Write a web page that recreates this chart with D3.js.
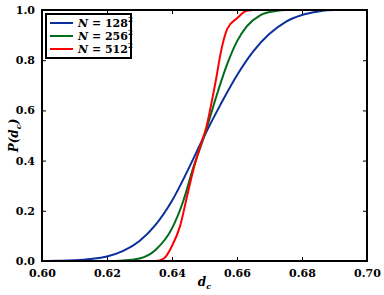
<!DOCTYPE html>
<html>
<head>
<meta charset="utf-8">
<script src="https://cdn.jsdelivr.net/npm/d3@7"></script>
<style>
body { margin: 0; background: #fff; }
text { font-family: "DejaVu Serif", "Liberation Serif", serif; }
</style>
</head>
<body>
<script>
// d_c values and P(d_c) for each lattice size
var d128 = [0.600, 0.605, 0.610, 0.615, 0.620, 0.625, 0.630, 0.635, 0.640, 0.645, 0.650, 0.655, 0.660, 0.665, 0.670, 0.675, 0.680, 0.685, 0.690, 0.700];
var p128 = [0, 0.001, 0.003, 0.008, 0.018, 0.04, 0.08, 0.145, 0.24, 0.365, 0.50, 0.625, 0.74, 0.835, 0.905, 0.953, 0.98, 0.994, 1.0, 1.0];

var d256 = [0.600, 0.620, 0.625, 0.630, 0.635, 0.640, 0.6435, 0.6465, 0.650, 0.6535, 0.657, 0.660, 0.663, 0.667, 0.672, 0.675, 0.700];
var p256 = [0, 0, 0.002, 0.01, 0.045, 0.13, 0.24, 0.37, 0.50, 0.65, 0.785, 0.875, 0.935, 0.978, 0.996, 1, 1];

var d512 = [0.600, 0.635, 0.6375, 0.640, 0.6425, 0.6445, 0.6465, 0.649, 0.6505, 0.652, 0.6535, 0.655, 0.657, 0.660, 0.663, 0.665, 0.700];
var p512 = [0, 0, 0.01, 0.06, 0.14, 0.25, 0.36, 0.47, 0.53, 0.62, 0.72, 0.83, 0.925, 0.967, 0.997, 1, 1];

var seriesNames = ["128", "256", "512"];
var seriesColors = ["#0b2f9c", "#006b1a", "#ff0000"];
var xTicks = [0.60, 0.62, 0.64, 0.66, 0.68, 0.70];
var yTicks = [0.0, 0.2, 0.4, 0.6, 0.8, 1.0];

var width = 384, height = 295;
var margin = {top: 10, right: 17, bottom: 34, left: 42};

var svg = d3.select("body").append("svg")
    .attr("width", width)
    .attr("height", height);

var x = d3.scaleLinear().domain([0.60, 0.70]).range([margin.left, width - margin.right]);
var y = d3.scaleLinear().domain([0, 1]).range([height - margin.bottom, margin.top]);

var series = [
  {d: d128, p: p128},
  {d: d256, p: p256},
  {d: d512, p: p512}
];

var line = d3.line()
    .x(function(v) { return x(v[0]); })
    .y(function(v) { return y(v[1]); })
    .curve(d3.curveMonotoneX);

var plot = svg.append("g");
plot.append("clipPath").attr("id", "clip")
  .append("rect")
    .attr("x", margin.left).attr("y", margin.top - 1)
    .attr("width", x(0.70) - x(0.60)).attr("height", y(0) - y(1) + 1);

series.forEach(function(s, i) {
  var pts = s.d.map(function(d, j) { return [d, s.p[j]]; });
  plot.append("path")
      .datum(pts)
      .attr("clip-path", "url(#clip)")
      .attr("fill", "none")
      .attr("stroke", seriesColors[i])
      .attr("stroke-width", 2)
      .attr("d", line);
});

// axes, ticks pointing inward
var fmtX = d3.format(".2f"), fmtY = d3.format(".1f");
svg.append("g")
    .attr("transform", "translate(0," + y(0) + ")")
    .call(d3.axisBottom(x).tickValues(xTicks).tickFormat(fmtX).tickSizeInner(-4).tickSizeOuter(0).tickPadding(8))
    .call(function(g) { g.select(".domain").remove(); });
svg.append("g")
    .attr("transform", "translate(0," + y(1) + ")")
    .call(d3.axisTop(x).tickValues(xTicks).tickFormat("").tickSizeInner(-4).tickSizeOuter(0))
    .call(function(g) { g.select(".domain").remove(); });
svg.append("g")
    .attr("transform", "translate(" + x(0.60) + ",0)")
    .call(d3.axisLeft(y).tickValues(yTicks).tickFormat(fmtY).tickSizeInner(-4).tickSizeOuter(0).tickPadding(7))
    .call(function(g) { g.select(".domain").remove(); });
svg.append("g")
    .attr("transform", "translate(" + x(0.70) + ",0)")
    .call(d3.axisRight(y).tickValues(yTicks).tickFormat("").tickSizeInner(-4).tickSizeOuter(0))
    .call(function(g) { g.select(".domain").remove(); });

svg.selectAll(".tick text")
    .attr("font-family", "DejaVu Serif")
    .attr("font-weight", "bold")
    .attr("font-size", 11)
    .attr("fill", "#000");
svg.selectAll(".tick line").attr("stroke", "#000").attr("stroke-width", 1);

svg.append("rect")
    .attr("x", x(0.60)).attr("y", y(1))
    .attr("width", x(0.70) - x(0.60)).attr("height", y(0) - y(1))
    .attr("fill", "none").attr("stroke", "#000").attr("stroke-width", 2);

// axis labels
var xl = svg.append("text")
    .attr("x", (x(0.60) + x(0.70)) / 2).attr("y", 286)
    .attr("text-anchor", "middle")
    .attr("font-size", 12).attr("font-weight", "bold").attr("font-style", "italic");
xl.append("tspan").text("d");
xl.append("tspan").attr("font-size", 8).attr("dy", 3).text("c");

var yl = svg.append("text")
    .attr("transform", "translate(18," + (y(0.5)) + ") rotate(-90)")
    .attr("text-anchor", "middle")
    .attr("font-size", 12).attr("font-weight", "bold").attr("font-style", "italic");
yl.append("tspan").text("P(d");
yl.append("tspan").attr("font-size", 8).attr("dy", 3).text("c");
yl.append("tspan").attr("dy", -3).text(")");

// legend
var lg = svg.append("g");
lg.append("rect")
    .attr("x", 46).attr("y", 14).attr("width", 85).attr("height", 44)
    .attr("fill", "#fff").attr("stroke", "#000").attr("stroke-width", 2);
seriesNames.forEach(function(n, i) {
  var ly = 23 + i * 13;
  lg.append("line")
      .attr("x1", 50).attr("x2", 73).attr("y1", ly).attr("y2", ly)
      .attr("stroke", seriesColors[i]).attr("stroke-width", 2);
  var t = lg.append("text")
      .attr("x", 78).attr("y", ly + 4)
      .attr("font-size", 11).attr("font-weight", "bold");
  t.append("tspan").attr("font-style", "italic").text("N");
  t.append("tspan").text(" = " + n);
  t.append("tspan").attr("font-size", 7).attr("dy", -5).text("2");
});
</script>
</body>
</html>
